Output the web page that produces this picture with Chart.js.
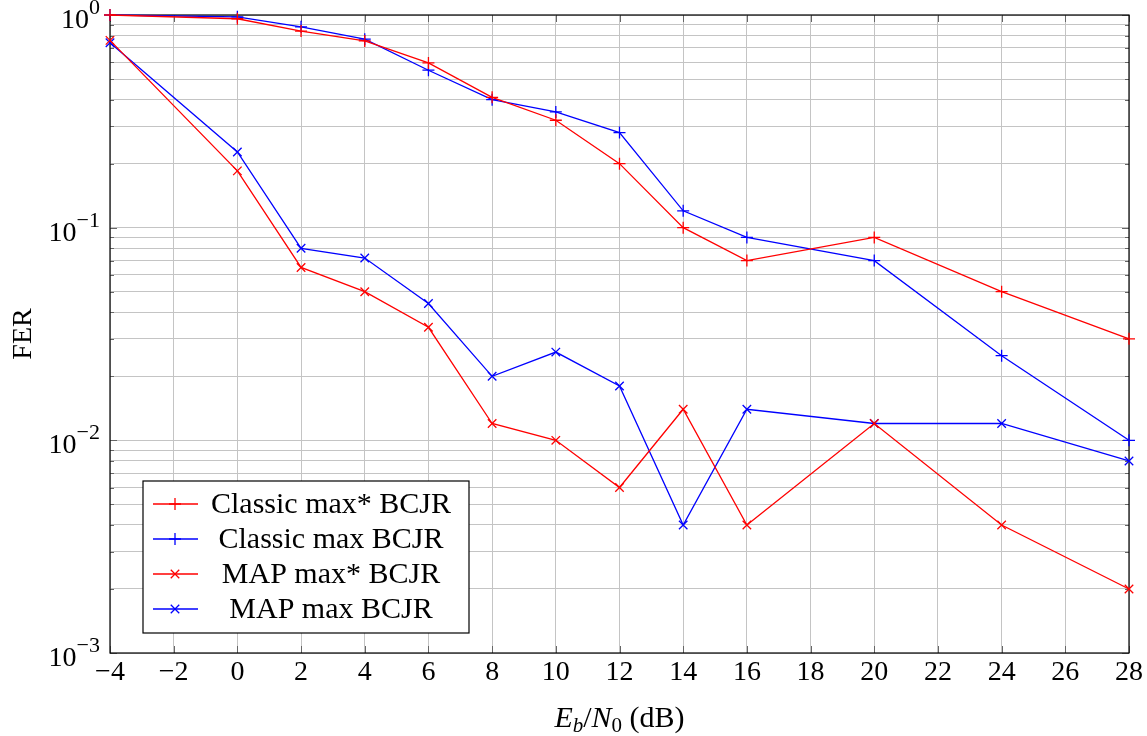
<!DOCTYPE html>
<html>
<head>
<meta charset="utf-8">
<script src="https://cdn.jsdelivr.net/npm/chart.js@4.4.0/dist/chart.umd.min.js"></script>
<style>
  html, body { margin: 0; padding: 0; background: #fff; }
  canvas { display: block; }
</style>
</head>
<body>
<canvas id="c" width="1147" height="736"></canvas>
<script>
const ebn0 = [-4, 0, 2, 4, 6, 8, 10, 12, 14, 16, 20, 24, 28];
const classicMaxStar = [1.0, 0.96, 0.84, 0.755, 0.595, 0.41, 0.32, 0.2, 0.1, 0.07, 0.09, 0.05, 0.03];
const classicMax = [1.0, 0.98, 0.88, 0.77, 0.55, 0.4, 0.35, 0.28, 0.12, 0.09, 0.07, 0.025, 0.01];
const mapMaxStar = [0.76, 0.185, 0.065, 0.05, 0.034, 0.012, 0.01, 0.006, 0.014, 0.004, 0.012, 0.004, 0.002];
const mapMax = [0.74, 0.227, 0.08, 0.072, 0.044, 0.02, 0.026, 0.018, 0.004, 0.014, 0.012, 0.012, 0.008];
const seriesNames = ["Classic max* BCJR", "Classic max BCJR", "MAP max* BCJR", "MAP max BCJR"];
const yDecades = [-3, -2, -1, 0];
const xTicks = [-4, -2, 0, 2, 4, 6, 8, 10, 12, 14, 16, 18, 20, 22, 24, 26, 28];

const FONT = "'Liberation Serif', 'DejaVu Serif', serif";

function pts(ys) {
  return ebn0.map((x, i) => ({ x: x, y: ys[i] }));
}

function ds(label, ys, color, style) {
  return {
    label: label,
    data: pts(ys),
    borderColor: color,
    backgroundColor: color,
    borderWidth: 1.3,
    pointStyle: style,
    pointRadius: 6,
    pointBorderWidth: 1.3,
    pointHoverRadius: 6,
    tension: 0,
    clip: 8,
  };
}

// black frame + small inner tick marks, like pgfplots
const frame = {
  id: "frame",
  beforeDatasetsDraw(chart) {
    const ctx = chart.ctx;
    const a = chart.chartArea;
    const xs = chart.scales.x, ys = chart.scales.y;
    ctx.save();
    ctx.strokeStyle = "#666";
    ctx.lineWidth = 1;
    ctx.beginPath();
    xs.ticks.forEach(t => {
      const px = Math.round(xs.getPixelForValue(t.value)) + 0.5;
      ctx.moveTo(px, a.bottom); ctx.lineTo(px, a.bottom - 7);
      ctx.moveTo(px, a.top); ctx.lineTo(px, a.top + 7);
    });
    ys.ticks.forEach(t => {
      const py = Math.round(ys.getPixelForValue(t.value)) + 0.5;
      const len = t.major ? 7 : 4;
      ctx.moveTo(a.left, py); ctx.lineTo(a.left + len, py);
      ctx.moveTo(a.right, py); ctx.lineTo(a.right - len, py);
    });
    ctx.stroke();
    ctx.strokeStyle = "#000";
    ctx.lineWidth = 1.2;
    ctx.strokeRect(a.left, a.top, a.right - a.left, a.bottom - a.top);
    ctx.restore();
  },
};

// y tick labels 10^k with real superscripts, and the y title
const yLabels = {
  id: "yLabels",
  afterDraw(chart) {
    const ctx = chart.ctx;
    const a = chart.chartArea;
    const ys = chart.scales.y;
    ctx.save();
    ctx.fillStyle = "#000";
    ctx.textBaseline = "alphabetic";
    yDecades.forEach(e => {
      const py = ys.getPixelForValue(Math.pow(10, e));
      const exp = e < 0 ? "\u2212" + Math.abs(e) : String(e);
      ctx.font = "22px " + FONT;
      const we = ctx.measureText(exp).width;
      ctx.font = "28px " + FONT;
      const wb = ctx.measureText("10").width;
      const right = a.left - 10;
      ctx.fillText("10", right - we - wb, py + 13);
      ctx.font = "22px " + FONT;
      ctx.fillText(exp, right - we, py - 1);
    });
    ctx.translate(24, (a.top + a.bottom) / 2);
    ctx.rotate(-Math.PI / 2);
    ctx.font = "28px " + FONT;
    ctx.textAlign = "center";
    ctx.textBaseline = "middle";
    ctx.fillText("FER", 0, 0);
    ctx.restore();
  },
};

// legend drawn inside the plot, bottom left
const boxLegend = {
  id: "boxLegend",
  afterDatasetsDraw(chart) {
    const ctx = chart.ctx;
    const a = chart.chartArea;
    const x0 = a.left + 33, w = 326, h = 152;
    const y0 = a.bottom - 20 - h;
    ctx.save();
    ctx.fillStyle = "#fff";
    ctx.fillRect(x0, y0, w, h);
    ctx.strokeStyle = "#000";
    ctx.lineWidth = 1.2;
    ctx.strokeRect(x0, y0, w, h);
    ctx.font = "30px " + FONT;
    ctx.textAlign = "center";
    ctx.textBaseline = "middle";
    chart.data.datasets.forEach((d, i) => {
      const cy = y0 + 23 + i * 35;
      ctx.strokeStyle = d.borderColor;
      ctx.lineWidth = 1.3;
      ctx.beginPath();
      ctx.moveTo(x0 + 10, cy);
      ctx.lineTo(x0 + 55, cy);
      ctx.stroke();
      Chart.helpers.drawPoint(ctx, { pointStyle: d.pointStyle, radius: 6, borderWidth: 1.3 }, x0 + 32, cy);
      ctx.fillStyle = "#000";
      ctx.fillText(d.label, x0 + 188, cy + 1);
    });
    ctx.restore();
  },
};

// x axis title with italic letters and subscripts
const xTitle = {
  id: "xTitle",
  afterDraw(chart) {
    const ctx = chart.ctx;
    const a = chart.chartArea;
    const parts = [
      ["E", "italic 30px", 0],
      ["b", "italic 21px", 5],
      ["/", "30px", 0],
      ["N", "italic 30px", 0],
      ["0", "21px", 5],
      [" (dB)", "30px", 0],
    ];
    ctx.save();
    ctx.fillStyle = "#000";
    ctx.textBaseline = "alphabetic";
    let total = 0;
    parts.forEach(p => { ctx.font = p[1] + " " + FONT; total += ctx.measureText(p[0]).width; });
    let x = (a.left + a.right) / 2 - total / 2;
    const base = 727;
    parts.forEach(p => {
      ctx.font = p[1] + " " + FONT;
      ctx.fillText(p[0], x, base + p[2]);
      x += ctx.measureText(p[0]).width;
    });
    ctx.restore();
  },
};

new Chart(document.getElementById("c"), {
  type: "line",
  data: {
    datasets: [
      ds(seriesNames[0], classicMaxStar, "#ff0000", "cross"),
      ds(seriesNames[1], classicMax, "#0000ff", "cross"),
      ds(seriesNames[2], mapMaxStar, "#ff0000", "crossRot"),
      ds(seriesNames[3], mapMax, "#0000ff", "crossRot"),
    ],
  },
  options: {
    responsive: false,
    animation: false,
    layout: { padding: { top: 15, right: 18, left: 0, bottom: 0 } },
    plugins: {
      legend: { display: false },
      tooltip: { enabled: false },
    },
    scales: {
      x: {
        type: "linear",
        min: -4,
        max: 28,
        afterBuildTicks(scale) {
          scale.ticks = xTicks.map(v => ({ value: v }));
        },
        afterFit(scale) { scale.height = 83; },
        ticks: {
          font: { family: FONT, size: 28 },
          color: "#000",
          padding: 3,
          maxRotation: 0,
          autoSkip: false,
          callback: v => (v < 0 ? "\u2212" + Math.abs(v) : String(v)),
        },
        grid: { color: "#c4c4c4", lineWidth: 1, drawTicks: false },
        border: { display: false },
      },
      y: {
        type: "logarithmic",
        min: 0.001,
        max: 1,
        afterBuildTicks(scale) {
          const t = [];
          yDecades.forEach(e => {
            const m = e === 0 ? [1] : [1, 2, 3, 4, 5, 6, 7, 8, 9];
            m.forEach(k => t.push({ value: k * Math.pow(10, e), major: k === 1 }));
          });
          scale.ticks = t;
        },
        afterFit(scale) { scale.width = 110; },
        ticks: { display: false },
        grid: { color: "#c4c4c4", lineWidth: 1, drawTicks: false },
        border: { display: false },
      },
    },
  },
  plugins: [frame, boxLegend, yLabels, xTitle],
});
</script>
</body>
</html>
